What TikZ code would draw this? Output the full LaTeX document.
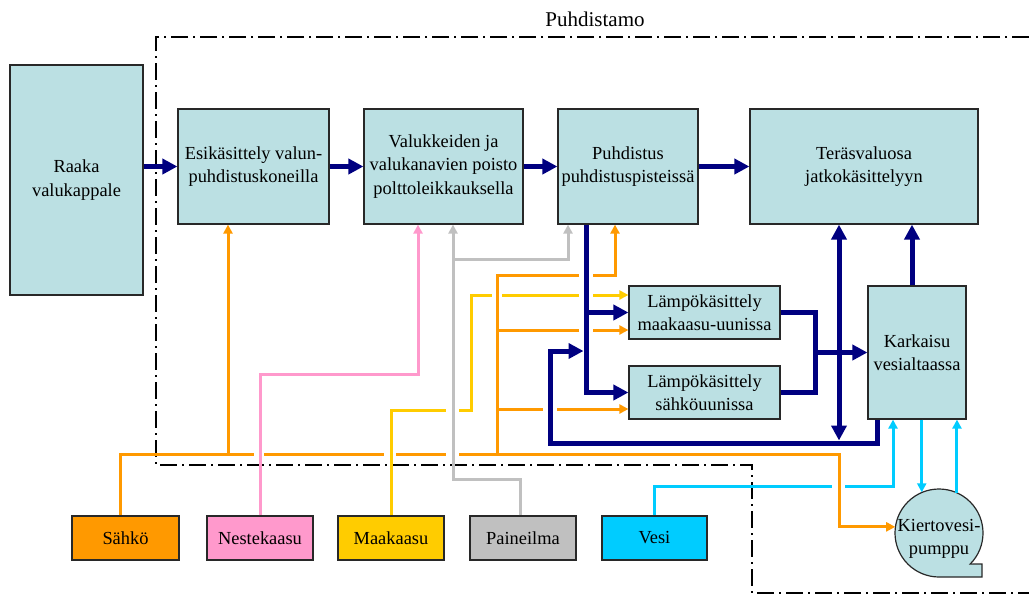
\documentclass[tikz,border=0pt]{standalone}
\usepackage{fontspec}
\setmainfont{Liberation Serif}
\usetikzlibrary{arrows.meta}
\definecolor{boxfill}{RGB}{187,224,227}
\definecolor{boxedge}{RGB}{40,40,40}
\definecolor{navyflow}{RGB}{0,0,128}
\definecolor{elorange}{RGB}{255,153,0}
\definecolor{gaspink}{RGB}{255,153,204}
\definecolor{natgas}{RGB}{255,204,0}
\definecolor{airgray}{RGB}{192,192,192}
\definecolor{watercyan}{RGB}{0,204,255}
\newcommand\diafont{\fontsize{18.4}{23.3}\selectfont}

\begin{document}
\begin{tikzpicture}[x=1pt,y=-1pt,
  box/.style={draw=boxedge, fill=boxfill, line width=1.2pt, inner sep=0pt,
              align=center, font=\diafont},
  flow/.style={draw=navyflow, line width=5pt},
  flowtip/.style={flow, -{Triangle[length=15pt,width=15pt]}},
  bothtips/.style={flow, {Triangle[length=15pt,width=15pt]}-{Triangle[length=15pt,width=15pt]}},
  supply/.style={line width=3pt},
  stip/.style={-{Triangle[length=9pt,width=9pt]}},
  boundary/.style={line width=2pt, dash pattern=on 17pt off 5pt on 2pt off 5pt}
]
\useasboundingbox (0,0) rectangle (1029,595);

% cleaning shop boundary
\draw[boundary] (1029,37) -- (156,37) -- (156,465) -- (752,465) -- (752,593) -- (1029,593);
\node[font=\fontsize{21}{25}\selectfont] (shop) at (595,19) {Puhdistamo};

% process steps
\node[box, minimum width=133pt, minimum height=230pt] (raw) at (76.5,180) {Raaka\\valukappale};
\node[box, minimum width=151pt, minimum height=115pt] (pre) at (253.5,166.5) {Esikäsittely valun-\\puhdistuskoneilla};
\node[box, minimum width=159pt, minimum height=115pt] (cut) at (443.5,166.5) {Valukkeiden ja\\valukanavien poisto\\polttoleikkauksella};
\node[box, minimum width=140pt, minimum height=115pt] (clean) at (628,166.5) {Puhdistus\\puhdistuspisteissä};
\node[box, minimum width=228pt, minimum height=115pt] (final) at (864,166.5) {Teräsvaluosa\\jatkokäsittelyyn};
\node[box, minimum width=151pt, minimum height=53pt] (gasoven) at (704.5,312.5) {Lämpökäsittely\\maakaasu-uunissa};
\node[box, minimum width=151pt, minimum height=53pt] (eloven) at (704.5,392.5) {Lämpökäsittely\\sähköuunissa};
\node[box, minimum width=98pt, minimum height=133pt] (quench) at (917,352.5) {Karkaisu\\vesialtaassa};

% circulation pump outline and label
\coordinate (pumpc) at (939,533);
\draw[draw=boxedge, fill=boxfill, line width=1.2pt]
  ([shift={(45:44)}]pumpc) arc[start angle=45, end angle=-270, radius=44]
  -- ++(43,0) -- ++(0,-13) -- cycle;
\node[circle, minimum size=88pt, inner sep=0pt, font=\diafont] (pump) at (pumpc)
  {\raisebox{-10pt}[0pt][0pt]{\begin{tabular}{@{}c@{}}Kiertovesi-\\pumppu\end{tabular}}};

% utilities
\node[box, fill=elorange, minimum width=107pt, minimum height=44pt] (sahko) at (125.5,538) {Sähkö};
\node[box, fill=gaspink, minimum width=106pt, minimum height=44pt] (neste) at (260,538) {Nestekaasu};
\node[box, fill=natgas, minimum width=106pt, minimum height=44pt] (maak) at (391,538) {Maakaasu};
\node[box, fill=airgray, minimum width=106pt, minimum height=44pt] (paine) at (523,538) {Paineilma};
\node[box, fill=watercyan, minimum width=105pt, minimum height=44pt] (vesi) at (654.5,538) {Vesi};

% electricity
\draw[supply, elorange] (120,0 |- sahko.north) -- (120,454) -- (254,454);
\draw[supply, elorange] (264,454) -- (384,454);
\draw[supply, elorange] (396,454) -- (446,454);
\draw[supply, elorange, stip] (459,454) -- (839,454) |- (pump.172);
\draw[supply, elorange, stip] (228,454) -- (228,0 |- pre.south);
\draw[supply, elorange] (497,454) -- (497,275) -- (579,275);
\draw[supply, elorange, stip] (593,275) -| (615,0 |- clean.south);
\draw[supply, elorange] (497,330) -- (579,330);
\draw[supply, elorange, stip] (593,330) -- (gasoven.west |- 0,330);
\draw[supply, elorange] (497,409) -- (543,409);
\draw[supply, elorange, stip] (557,409) -- (eloven.west |- 0,409);

% natural gas
\draw[supply, natgas] (maak.north) -- (maak.north |- 0,410) -- (446,410);
\draw[supply, natgas] (459,410) -- (471,410) -- (471,295) -- (492,295);
\draw[supply, natgas] (502,295) -- (579,295);
\draw[supply, natgas, stip] (593,295) -- (gasoven.west |- 0,295);

% compressed air
\draw[supply, airgray, stip] (520,0 |- paine.north) -- (520,479) -- (453,479) -- (453,0 |- cut.south);
\draw[supply, airgray, stip] (453,259) -| (568,0 |- clean.south);

% liquefied gas
\draw[supply, gaspink, stip] (neste.north) -- (neste.north |- 0,374) -| (418,0 |- cut.south);

% water
\draw[supply, watercyan] (vesi.north) -- (vesi.north |- 0,486) -- (832,486);
\draw[supply, watercyan, stip] (845,486) -| (893,0 |- quench.south);
\draw[supply, watercyan, stip] (pump.113 |- quench.south) -- (pump.113);
\draw[supply, watercyan, stip] (pump.66) -- (pump.66 |- quench.south);

% material flow
\draw[flowtip] (raw.east |- pre.west) -- (pre.west);
\draw[flowtip] (pre) -- (cut);
\draw[flowtip] (cut) -- (clean);
\draw[flowtip] (clean) -- (final);
\draw[flowtip] (586,0 |- clean.south) |- (eloven.west);
\draw[flowtip] (586,0 |- gasoven.west) -- (gasoven.west);
\coordinate (merge) at (815,352.5);
\draw[flow] (gasoven.east) -| (merge) |- (eloven.east);
\draw[flowtip] (merge) -- (quench.west);
\draw[flowtip] (912,0 |- quench.north) -- (912,0 |- final.south);
\coordinate (loopjoin) at (839,440.5);
\draw[bothtips] (839,0 |- final.south) -- (loopjoin);
\coordinate (backin) at (583.5,351);
\draw[flowtip] (877,0 |- quench.south) -- (877,443) -- (550,443) -- (550,351) -- (backin);
\end{tikzpicture}
\end{document}
